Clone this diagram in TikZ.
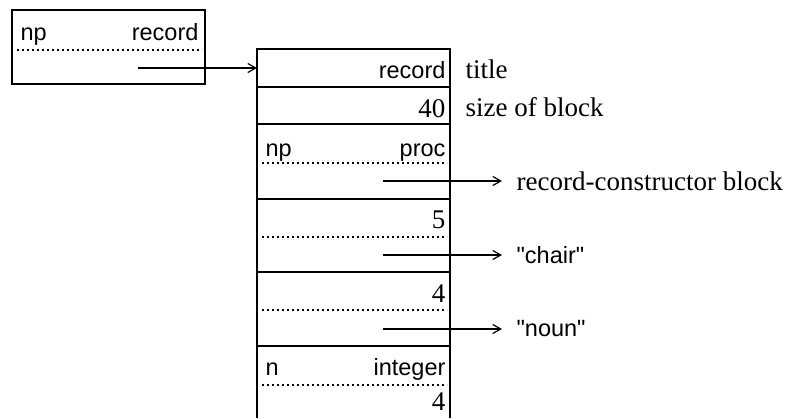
\documentclass[tikz,border=0pt]{standalone}
\usepackage{fontspec}
\setmainfont{Liberation Serif}
\setsansfont{Liberation Sans}
\usetikzlibrary{arrows.meta}
\tikzset{
  sftxt/.style={font=\fontsize{11.75}{14}\selectfont\sffamily, inner sep=0pt},
  rmtxt/.style={font=\fontsize{13.5}{16}\selectfont, inner sep=0pt},
  sepline/.style={line width=0.85pt, dash pattern=on 0.85pt off 1.65pt},
  ptr/.style={-{Straight Barb[length=4pt,width=4.5pt]}, line width=0.6pt}
}
\begin{document}
\begin{tikzpicture}[x=0.5pt, y=-0.5pt, line width=0.6pt]
                \useasboundingbox (0,0) rectangle (786,418);
                % pointer box
                \draw (12,10) rectangle (205,84);
                \draw[sepline] (17,50) -- (202,50);
                \node[sftxt, anchor=base west] (np0) at (20,40) {np};
                \node[sftxt, anchor=base east] (rec0) at (199,40) {record};
                \coordinate (p0) at (138,68);
                \coordinate (blk) at (257,68);
                \draw[ptr] (p0) -- (blk);

                % record block
                \draw (257,418) -- (257,49) -- (450,49) -- (450,418);
                \foreach \y in {87,124,199,272,346}
                    \draw (257,\y) -- (450,\y);
                \foreach \y in {163,237,310,385}
                    \draw[sepline] (262,\y) -- (447,\y);

                \node[sftxt, anchor=base east] (rec1) at (446,78) {record};
                \node[rmtxt, anchor=base east] (size) at (446,117) {40};
                \node[sftxt, anchor=base west] (np1) at (265,156) {np};
                \node[sftxt, anchor=base east] (proc) at (446,156) {proc};
                \node[rmtxt, anchor=base east] (len1) at (446,228) {5};
                \node[rmtxt, anchor=base east] (len2) at (446,302) {4};
                \node[sftxt, anchor=base west] (n) at (265,375) {n};
                \node[sftxt, anchor=base east] (int) at (446,375) {integer};
                \node[rmtxt, anchor=base east] (val) at (446,410) {4};

                % notes on the right
                \node[rmtxt, anchor=base west] (title) at (465,78) {title};
                \node[rmtxt, anchor=base west] (sob) at (465,116) {size of block};
                \node[rmtxt, anchor=west] (rcb) at (516,181) {record-constructor block};
                \node[sftxt, anchor=west] (chair) at (516,255) {\textquotedbl chair\textquotedbl};
                \node[sftxt, anchor=west] (noun) at (516,329) {\textquotedbl noun\textquotedbl};

                \coordinate (p1) at (383,181);
                \coordinate (p2) at (383,255);
                \coordinate (p3) at (383,329);
                \draw[ptr, shorten >=7pt] (p1) -- (rcb.west);
                \draw[ptr, shorten >=7pt] (p2) -- (chair.west);
                \draw[ptr, shorten >=7pt] (p3) -- (noun.west);
\end{tikzpicture}
\end{document}
